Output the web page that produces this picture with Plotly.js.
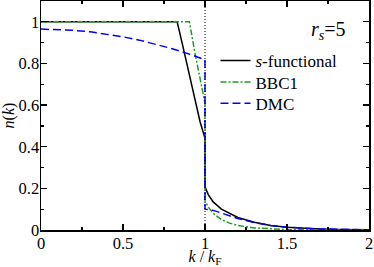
<!DOCTYPE html>
<html>
<head>
<meta charset="utf-8">
<script src="https://cdn.plot.ly/plotly-3.0.1.min.js"></script>
<style>html,body{margin:0;padding:0;background:#fff;}#chart{width:374px;height:267px;}</style>
</head>
<body>
<div id="chart"></div>
<script>
// s-functional
var sK = [0, 0.83, 0.86, 0.90, 0.94, 0.97, 1.0, 1.0, 1.02, 1.05, 1.1, 1.15, 1.2, 1.3, 1.4, 1.5, 1.6, 1.7, 1.8, 2.0];
var sN = [1, 1, 0.90, 0.76, 0.62, 0.52, 0.44, 0.207, 0.17, 0.135, 0.10, 0.078, 0.06, 0.037, 0.022, 0.013, 0.008, 0.005, 0.003, 0.001];
// BBC1
var bbcK = [0, 0.905, 0.94, 0.97, 1.0, 1.0, 1.02, 1.05, 1.1, 1.15, 1.2, 1.3, 1.4, 1.5, 1.7, 2.0];
var bbcN = [1, 1, 0.845, 0.73, 0.61, 0.14, 0.11, 0.08, 0.05, 0.033, 0.022, 0.01, 0.005, 0.002, 0.0005, 0];
// DMC
var dmcK = [0, 0.1, 0.2, 0.3, 0.4, 0.5, 0.6, 0.7, 0.8, 0.9, 1.0, 1.0, 1.03, 1.06, 1.1, 1.15, 1.2, 1.3, 1.4, 1.5, 1.7, 2.0];
var dmcN = [0.965, 0.963, 0.959, 0.952, 0.941, 0.928, 0.912, 0.893, 0.871, 0.846, 0.818, 0.10, 0.098, 0.092, 0.082, 0.068, 0.055, 0.036, 0.022, 0.013, 0.005, 0.001];
var kFermi = 1;
var xTicks = [0, 0.5, 1, 1.5, 2];
var yTicks = [0, 0.2, 0.4, 0.6, 0.8, 1];

var FONT = 'Times New Roman, Liberation Serif, DejaVu Serif, serif';
var legFont = {family: FONT, size: 17, color: '#000'};
function leg(yPaper) {
  return {x: 0.532, y: yPaper, xanchor: 'left', yanchor: 'middle', bgcolor: 'rgba(0,0,0,0)',
    font: legFont, itemwidth: 30, borderwidth: 0};
}
var traces = [
  {x: sK, y: sN, mode: 'lines', name: '<i>s</i>-functional', legend: 'legend', line: {color: '#000000', width: 1.5}},
  {x: bbcK, y: bbcN, mode: 'lines', name: 'BBC1', legend: 'legend2', line: {color: '#1e9e1e', width: 1.5, dash: '6px,2px,2px,2px'}},
  {x: dmcK, y: dmcN, mode: 'lines', name: 'DMC', legend: 'legend3', line: {color: '#0000ff', width: 1.5, dash: '8px,4px'}}
];
var axisCommon = {
  showgrid: false, zeroline: false, showline: true, linecolor: '#000', linewidth: 1.5,
  mirror: 'ticks', ticks: 'inside', ticklen: 6, tickwidth: 1.2, tickcolor: '#000',
  tickfont: {family: FONT, size: 16.5, color: '#000'},
  minor: {ticks: 'inside', ticklen: 3, tickwidth: 1.2, tickcolor: '#000'}
};
var layout = {
  width: 374, height: 267,
  margin: {l: 41, r: 5, t: 1, b: 37},
  paper_bgcolor: '#fff', plot_bgcolor: '#fff',
  font: {family: FONT, color: '#000'},
  xaxis: Object.assign({}, axisCommon, {
    range: [0, 2], tickvals: xTicks, ticktext: xTicks.map(String), ticklabelstandoff: -2,
    minor: Object.assign({}, axisCommon.minor, {dtick: 0.25, tick0: 0}),
    title: {text: '<i>k</i> / <i>k</i><sub>F</sub>', font: {family: FONT, size: 16}, standoff: 8}
  }),
  yaxis: Object.assign({}, axisCommon, {
    range: [0, 1.1], tickvals: yTicks, ticktext: yTicks.map(String), ticklabelstandoff: -3,
    minor: Object.assign({}, axisCommon.minor, {dtick: 0.1, tick0: 0}),
    title: {text: '<i>n</i>(<i>k</i>)', font: {family: FONT, size: 16}, standoff: 6}
  }),
  shapes: [{type: 'line', xref: 'x', yref: 'paper', x0: kFermi, x1: kFermi, y0: 0, y1: 1,
    line: {color: '#000', width: 1, dash: '1px,2px'}}],
  legend: leg(0.738),
  legend2: leg(0.644),
  legend3: leg(0.552),
  showlegend: true,
  annotations: [{xref: 'paper', yref: 'paper', x: 0.935, y: 0.87, xanchor: 'right', yanchor: 'middle',
    text: '<i>r</i><sub><i>s</i></sub>=5', showarrow: false, font: {family: FONT, size: 20, color: '#000'}}]
};
Plotly.newPlot('chart', traces, layout, {staticPlot: true, displayModeBar: false});
</script>
</body>
</html>
